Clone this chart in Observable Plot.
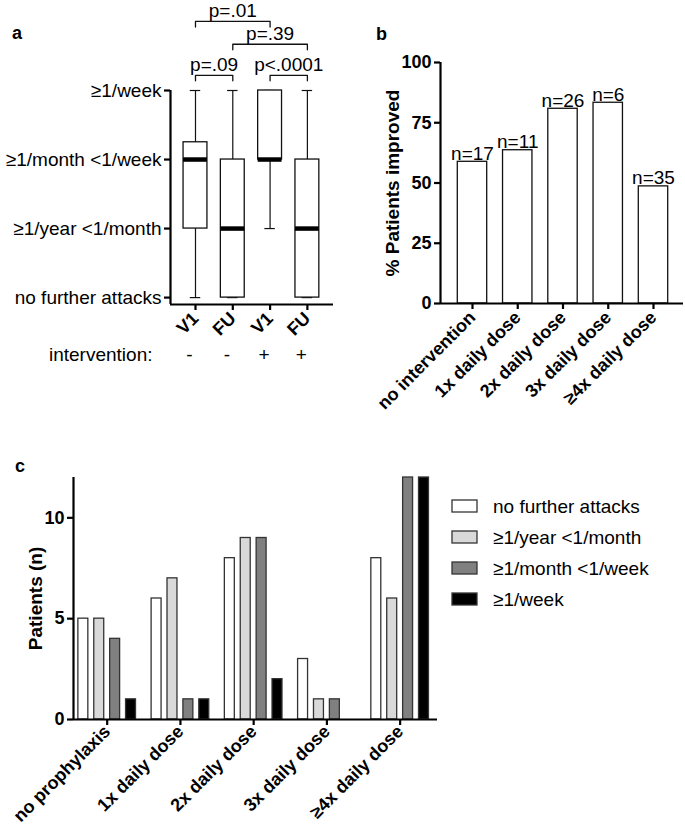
<!DOCTYPE html>
<html><head><meta charset="utf-8">
<script src="https://cdn.jsdelivr.net/npm/d3@7"></script>
<script src="https://cdn.jsdelivr.net/npm/@observablehq/plot@0.6"></script>
<style>
body{margin:0;background:#fff;}
#fig{position:relative;width:685px;height:835px;overflow:hidden;font-family:"Liberation Sans",Arial,Helvetica,sans-serif;color:#000;}
.panel{position:absolute;}
.tag{position:absolute;font-weight:bold;font-size:18px;line-height:18px;}
</style></head><body>
<div id="fig">
  <div class="tag" style="left:12px;top:24px">a</div>
  <div class="tag" style="left:376px;top:25px">b</div>
  <div class="tag" style="left:15px;top:457px">c</div>
  <div class="panel" id="pa" style="left:0;top:0"></div>
  <div class="panel" id="pb" style="left:340px;top:0"></div>
  <div class="panel" id="pc" style="left:0;top:460px"></div>
  <div class="panel" id="pl" style="left:452px;top:491px"></div>
</div>
<script>
// ---------- data: panel a (box plots, ordinal frequency levels 0..3) ----------
const boxGroupLabels = ["V1", "FU", "V1", "FU"];
const interventionMarks = ["-", "-", "+", "+"];
const whiskerLow  = [0, 0, 1, 0];
const boxLow      = [1, 0, 2, 0];
const boxMedian   = [2, 1, 2, 1];
const boxHigh     = [2.25, 2, 3, 2];
const whiskerHigh = [3, 3, 3, 3];
const frequencyLevels = ["no further attacks", "≥1/year <1/month", "≥1/month <1/week", "≥1/week"];
const comparisonFrom = [1, 3, 2, 1];
const comparisonTo   = [2, 4, 4, 3];
const comparisonLabels = ["p=.09", "p<.0001", "p=.39", "p=.01"];

// ---------- data: panel b ----------
const doseGroups = ["no intervention", "1x daily dose", "2x daily dose", "3x daily dose", "≥4x daily dose"];
const pctImproved = [58.8, 63.6, 80.8, 83.3, 48.6];
const groupN = [17, 11, 26, 6, 35];

// ---------- data: panel c ----------
const prophylaxisGroups = ["no prophylaxis", "1x daily dose", "2x daily dose", "3x daily dose", "≥4x daily dose"];
const severityLevels = ["no further attacks", "≥1/year <1/month", "≥1/month <1/week", "≥1/week"];
const countsNoAttacks = [5, 6, 8, 3, 8];
const countsPerYear   = [5, 7, 9, 1, 6];
const countsPerMonth  = [4, 1, 9, 1, 12];
const countsPerWeek   = [1, 1, 2, 0, 12];
const severityColors = ["#ffffff", "#d9d9d9", "#808080", "#000000"];

// ---------- styling / layout ----------
const FONT = '"Liberation Sans", Arial, Helvetica, sans-serif';
const AX = 2.2;
const baseStyle = {fontFamily: FONT, fontSize: "19px", color: "#000", background: "transparent", overflow: "visible"};
const bracketTier = [0, 0, 1, 2];
const tierLevel = [3.22, 3.67, 4.0];

// ---------- panel a ----------
const xA = [0.33, 4.70];
const BH = 0.32, CH = 0.14;
const boxes = boxGroupLabels.map((g, i) => ({pos: i + 1, lo: whiskerLow[i], q1: boxLow[i], med: boxMedian[i], q3: boxHigh[i], hi: whiskerHigh[i]}));
const brackets = comparisonLabels.map((p, k) => ({a: comparisonFrom[k], b: comparisonTo[k], label: p, lvl: tierLevel[bracketTier[k]]}));
const bracketPts = brackets.flatMap((d, k) => [
  {k, x: d.a, y: d.lvl - 0.08}, {k, x: d.a, y: d.lvl}, {k, x: d.b, y: d.lvl}, {k, x: d.b, y: d.lvl - 0.08}
]);

const plotA = Plot.plot({
  width: 340, height: 420, marginLeft: 170, marginRight: 7, marginTop: 90, marginBottom: 116,
  style: baseStyle,
  x: {domain: xA}, y: {domain: [-0.1, 3]},
  marks: [
    Plot.ruleX(boxes, {x: "pos", y1: "lo", y2: "hi", stroke: "#111", strokeWidth: 1.2}),
    Plot.ruleY(boxes, {y: "lo", x1: d => d.pos - CH, x2: d => d.pos + CH, stroke: "#111", strokeWidth: 1.2}),
    Plot.ruleY(boxes, {y: "hi", x1: d => d.pos - CH, x2: d => d.pos + CH, stroke: "#111", strokeWidth: 1.2}),
    Plot.rect(boxes, {x1: d => d.pos - BH, x2: d => d.pos + BH, y1: "q1", y2: "q3", fill: "white", stroke: "#111", strokeWidth: 1.3}),
    Plot.ruleY(boxes, {y: "med", x1: d => d.pos - BH, x2: d => d.pos + BH, stroke: "#000", strokeWidth: 4.5}),
    Plot.line(bracketPts, {x: "x", y: "y", z: "k", stroke: "#111", strokeWidth: 1.3}),
    Plot.text(brackets, {x: d => (d.a + d.b) / 2, y: "lvl", text: "label", dy: -4, lineAnchor: "bottom", fontSize: 19}),
    Plot.ruleX([xA[0]], {y1: -0.1, y2: 3, strokeWidth: AX}),
    Plot.ruleY([-0.1], {strokeWidth: AX}),
    Plot.axisY({ticks: [0, 1, 2, 3], tickFormat: i => frequencyLevels[i], tickSize: 6, tickPadding: 3, fontSize: 19, strokeWidth: AX, label: null}),
    Plot.axisX({ticks: [1, 2, 3, 4], tickFormat: i => boxGroupLabels[i - 1], tickSize: 6, tickPadding: 5, tickRotate: -45, fontSize: 18, fontWeight: "bold", strokeWidth: AX, label: null}),
    Plot.text(["intervention:"], {frameAnchor: "bottom-left", dx: -18, dy: 56, textAnchor: "end", fontSize: 19}),
    Plot.text(interventionMarks, {x: (d, i) => i + 1, frameAnchor: "bottom", dx: -6, dy: 56, fontSize: 19})
  ]
});
document.getElementById("pa").append(plotA);

// ---------- panel b ----------
const xB = [-0.707, 4.663];
const barsB = doseGroups.map((g, i) => ({i, g, v: pctImproved[i], n: groupN[i]}));
const plotB = Plot.plot({
  width: 345, height: 440, marginLeft: 100, marginRight: 2, marginTop: 62, marginBottom: 137,
  style: baseStyle,
  x: {domain: xB}, y: {domain: [0, 100]},
  marks: [
    Plot.rect(barsB, {x1: d => d.i - 0.325, x2: d => d.i + 0.325, y1: 0, y2: "v", fill: "white", stroke: "#111", strokeWidth: 1.3}),
    Plot.text(barsB, {x: "i", y: "v", text: d => `n=${d.n}`, dy: -2, lineAnchor: "bottom", fontSize: 19}),
    Plot.ruleX([xB[0]], {y1: 0, y2: 100, strokeWidth: AX}),
    Plot.ruleY([0], {strokeWidth: AX}),
    Plot.axisY({ticks: [0, 25, 50, 75, 100], tickSize: 6, tickPadding: 3, fontSize: 18, fontWeight: "bold", strokeWidth: AX, label: null}),
    Plot.axisX({ticks: [0, 1, 2, 3, 4], tickFormat: i => doseGroups[i], tickSize: 6, tickPadding: 5, tickRotate: -45, fontSize: 18, fontWeight: "bold", strokeWidth: AX, label: null}),
    Plot.text(["% Patients improved"], {frameAnchor: "left", dx: -48, rotate: -90, textAnchor: "middle", fontSize: 19, fontWeight: "bold"})
  ]
});
document.getElementById("pb").append(plotB);

// ---------- panel c ----------
const xC = [-0.46, 4.51];
const SB = 0.217, HW = 0.068;
const severitySeries = [countsNoAttacks, countsPerYear, countsPerMonth, countsPerWeek];
const barsC = prophylaxisGroups.flatMap((g, i) => severityLevels.map((s, j) => ({i, j, s, v: severitySeries[j][i]}))).filter(d => d.v > 0);
const colorScale = {type: "ordinal", domain: severityLevels, range: severityColors};
const plotC = Plot.plot({
  width: 450, height: 375, marginLeft: 73, marginRight: 13, marginTop: 17, marginBottom: 116,
  style: baseStyle,
  x: {domain: xC}, y: {domain: [0, 12]},
  color: colorScale,
  marks: [
    Plot.rect(barsC, {x1: d => d.i + (d.j - 1.5) * SB - HW, x2: d => d.i + (d.j - 1.5) * SB + HW, y1: 0, y2: "v", fill: "s", stroke: "#333", strokeWidth: 1.3}),
    Plot.ruleX([xC[0]], {y1: 0, y2: 12, strokeWidth: AX}),
    Plot.ruleY([0], {strokeWidth: AX}),
    Plot.axisY({ticks: [0, 5, 10], tickSize: 6, tickPadding: 3, fontSize: 18, fontWeight: "bold", strokeWidth: AX, label: null}),
    Plot.axisX({ticks: [0, 1, 2, 3, 4], tickFormat: i => prophylaxisGroups[i], tickSize: 6, tickPadding: 3, tickRotate: -45, fontSize: 18, fontWeight: "bold", strokeWidth: AX, label: null}),
    Plot.text(["Patients (n)"], {frameAnchor: "left", dx: -38, rotate: -90, textAnchor: "middle", fontSize: 19, fontWeight: "bold"})
  ]
});
document.getElementById("pc").append(plotC);

// ---------- legend for panel c ----------
const plotL = Plot.plot({
  width: 233, height: 124, marginLeft: 0, marginRight: 0, marginTop: 0, marginBottom: 0,
  style: baseStyle,
  x: {type: "band", domain: ["key"], range: [0, 25], padding: 0, axis: null},
  y: {type: "band", domain: severityLevels, paddingInner: 0.6, paddingOuter: 0.3, axis: null},
  color: colorScale,
  marks: [
    Plot.cell(severityLevels, {x: () => "key", y: d => d, fill: d => d, stroke: "#333", strokeWidth: 1.3}),
    Plot.text(severityLevels, {x: () => "key", y: d => d, dx: 28, textAnchor: "start", fontSize: 19})
  ]
});
document.getElementById("pl").append(plotL);
</script>
</body></html>
